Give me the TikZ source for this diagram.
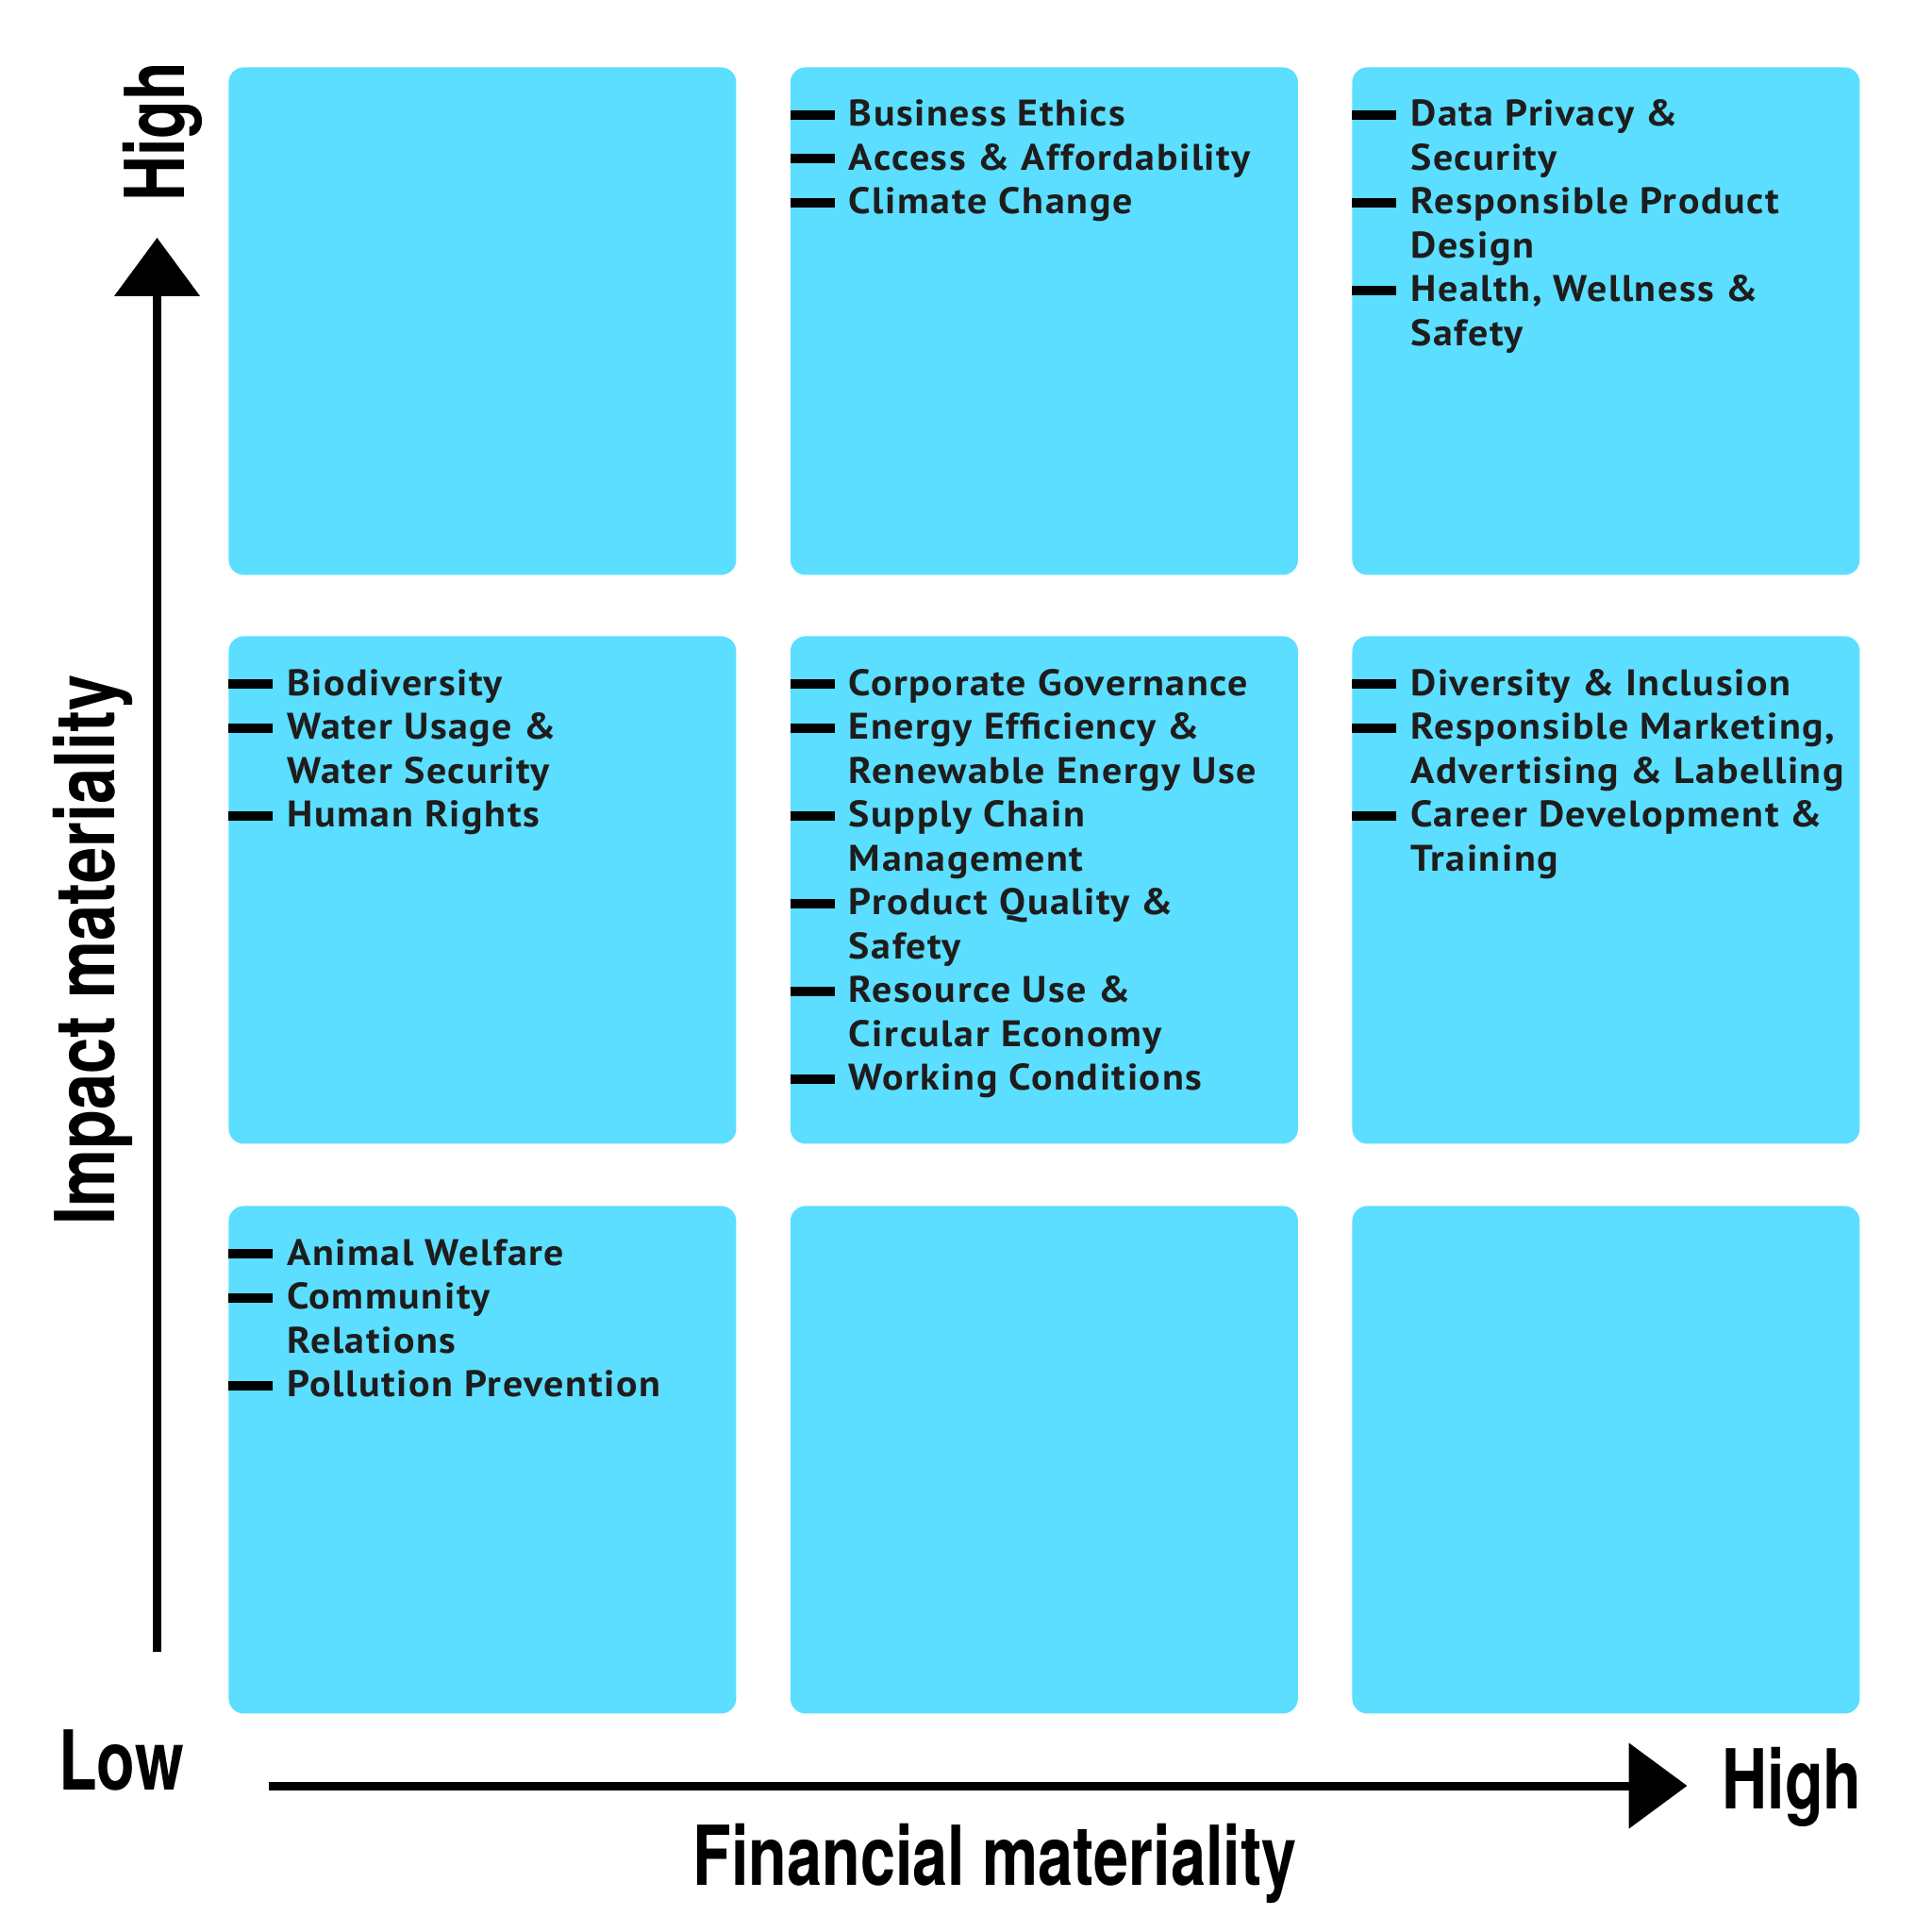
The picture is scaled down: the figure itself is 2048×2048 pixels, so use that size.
\documentclass[tikz,border=0pt]{standalone}
\usepackage{fontspec}
\usepackage{xcolor}
\usepackage{tikz}
\usetikzlibrary{arrows.meta, calc}

\setmainfont[FakeStretch=1.07, LetterSpace=4]{PT Sans}
\newfontfamily\axisfont[FakeStretch=0.76]{TeX Gyre Heros}
\definecolor{cellcyan}{RGB}{91,222,255}
\definecolor{inkgray}{RGB}{30,28,28}

\begin{document}
\begin{tikzpicture}[
    x=0.5pt, y=-0.5pt,
    cell/.style={fill=cellcyan, rounded corners=8pt, minimum width=269pt, minimum height=269pt, inner sep=0pt, anchor=north west},
    item/.style={anchor=base west, inner sep=0pt, align=left, text=inkgray, font=\fontsize{19.6}{23.25}\selectfont\bfseries},
    bullet/.style={line width=5pt},
    axislabel/.style={inner sep=0pt, anchor=base, font=\axisfont\fontsize{43.8}{44}\selectfont\bfseries},
    axisarrow/.style={line width=4.5pt, -{Triangle[length=31pt, width=44.5pt]}}
]
\useasboundingbox (0,0) rectangle (2048,2048);

% Grid of cells (row 1 = high impact, column 1 = low financial)
\foreach \r/\y in {1/71, 2/674, 3/1278} {
  \foreach \c/\x in {1/242, 2/837.5, 3/1433} {
    \node[cell] (c\r\c) at (\x,\y) {};
  }
}

% Items: first line / number of lines / text (node base = last line)

% High impact, medium financial
\foreach \ln/\n/\txt in {0/1/Business Ethics, 1/1/Access \& Affordability, 2/1/Climate Change} {
  \node[item] (c12-\ln) at ($(c12.north west)+(62,63+46.5*\ln+46.5*\n-46.5)$) {\txt};
  \draw[bullet] ($(c12.north west)+(0,51+46.5*\ln)$) -- ++(47,0);
}

% High impact, high financial
\foreach \ln/\n/\txt in {0/2/{Data Privacy \&\\Security}, 2/2/{Responsible Product\\Design}, 4/2/{Health, Wellness \&\\Safety}} {
  \node[item] (c13-\ln) at ($(c13.north west)+(62,63+46.5*\ln+46.5*\n-46.5)$) {\txt};
  \draw[bullet] ($(c13.north west)+(0,51+46.5*\ln)$) -- ++(47,0);
}

% Medium impact, low financial
\foreach \ln/\n/\txt in {0/1/Biodiversity, 1/2/{Water Usage \&\\Water Security}, 3/1/Human Rights} {
  \node[item] (c21-\ln) at ($(c21.north west)+(62,63+46.5*\ln+46.5*\n-46.5)$) {\txt};
  \draw[bullet] ($(c21.north west)+(0,51+46.5*\ln)$) -- ++(47,0);
}

% Medium impact, medium financial
\foreach \ln/\n/\txt in {0/1/Corporate Governance, 1/2/{Energy Efficiency \&\\Renewable Energy Use}, 3/2/{Supply Chain\\Management},
    5/2/{Product Quality \&\\Safety}, 7/2/{Resource Use \&\\Circular Economy}, 9/1/Working Conditions} {
  \node[item] (c22-\ln) at ($(c22.north west)+(62,63+46.5*\ln+46.5*\n-46.5)$) {\txt};
  \draw[bullet] ($(c22.north west)+(0,51+46.5*\ln)$) -- ++(47,0);
}

% Medium impact, high financial
\foreach \ln/\n/\txt in {0/1/Diversity \& Inclusion, 1/2/{Responsible Marketing,\\Advertising \& Labelling}, 3/2/{Career Development \&\\Training}} {
  \node[item] (c23-\ln) at ($(c23.north west)+(62,63+46.5*\ln+46.5*\n-46.5)$) {\txt};
  \draw[bullet] ($(c23.north west)+(0,51+46.5*\ln)$) -- ++(47,0);
}

% Low impact, low financial
\foreach \ln/\n/\txt in {0/1/Animal Welfare, 1/2/{Community\\Relations}, 3/1/Pollution Prevention} {
  \node[item] (c31-\ln) at ($(c31.north west)+(62,63+46.5*\ln+46.5*\n-46.5)$) {\txt};
  \draw[bullet] ($(c31.north west)+(0,51+46.5*\ln)$) -- ++(47,0);
}

% Axes
\coordinate (yfoot) at (166.5,1751);
\coordinate (ytip) at (166.5,252);
\coordinate (xfoot) at (284.6,1893);
\coordinate (xtip) at (1788.5,1893);
\draw[axisarrow] (yfoot) -- (ytip);
\draw[axisarrow] (xfoot) -- (xtip);

% Axis labels
\node[axislabel, rotate=90] (yhigh) at (195,140) {High};
\node[axislabel, rotate=90, xscale=1.03] (ytitle) at (121,1007) {Impact materiality};
\node[axislabel] (xlow) at (128.5,1897) {Low};
\node[axislabel] (xhigh) at (1899.5,1917) {High};
\node[axislabel] (xtitle) at (1054.5,1998) {Financial materiality};

\end{tikzpicture}
\end{document}
